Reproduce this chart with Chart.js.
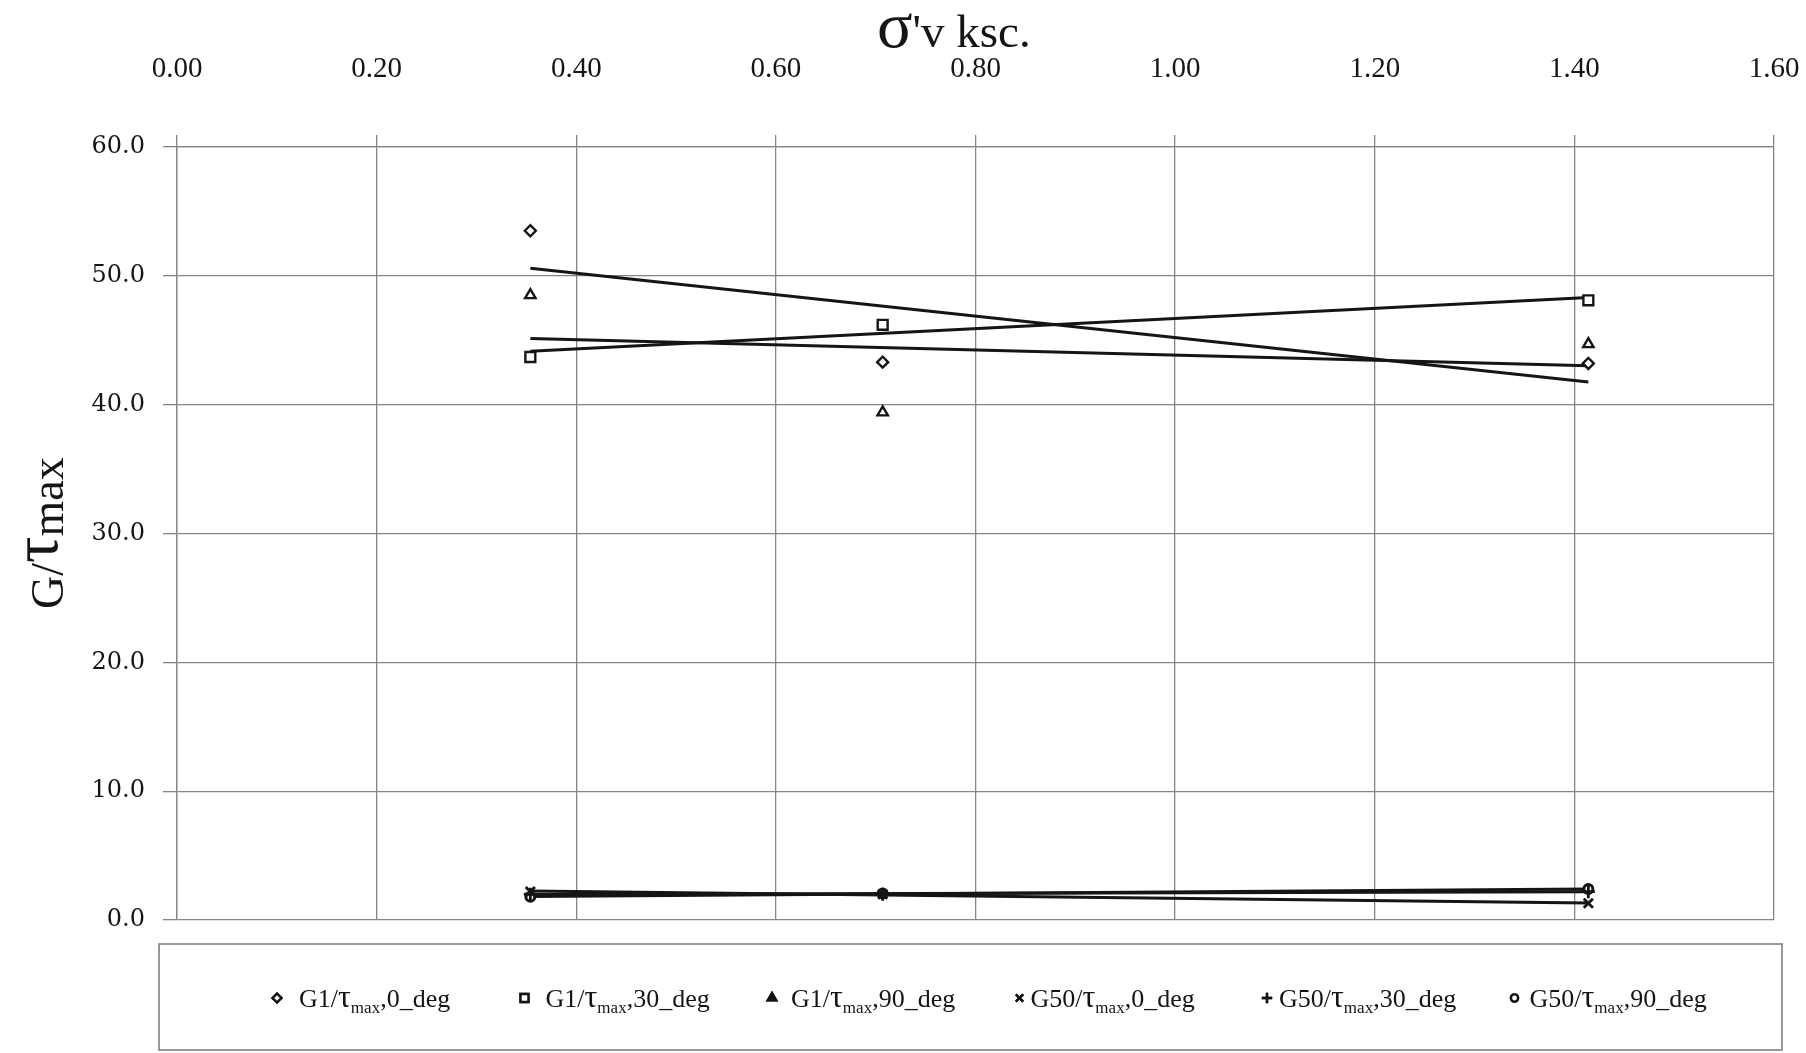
<!DOCTYPE html>
<html><head><meta charset="utf-8">
<script src="https://cdn.jsdelivr.net/npm/chart.js@4.4.1/dist/chart.umd.min.js"></script>
<style>html,body{margin:0;padding:0;background:#fff;overflow:hidden;} canvas{display:block;}</style>
</head><body>
<canvas id="c" width="1806" height="1053" style="width:1806px;height:1053px"></canvas>
<script>
// ---- data ----
const xValues = [0.354, 0.707, 1.414];          // σ'v (ksc.)
const g1_0deg  = [53.5, 43.3, 43.2];
const g1_30deg = [43.7, 46.2, 48.1];
const g1_90deg = [48.5, 39.4, 44.7];
const g50_0deg  = [2.2, 2.0, 1.3];
const g50_30deg = [2.0, 2.0, 2.2];
const g50_90deg = [1.8, 2.05, 2.4];
const xTicks = [0.00, 0.20, 0.40, 0.60, 0.80, 1.00, 1.20, 1.40, 1.60];
const yTicks = [0, 10, 20, 30, 40, 50, 60];
const seriesPrefix = ['G1/', 'G1/', 'G1/', 'G50/', 'G50/', 'G50/'];
const seriesSuffix = [',0_deg', ',30_deg', ',90_deg', ',0_deg', ',30_deg', ',90_deg'];
const seriesValues = [g1_0deg, g1_30deg, g1_90deg, g50_0deg, g50_30deg, g50_90deg];

// ---- styles ----
const markerStyle = [
  {pointStyle:'rectRot', radius:5.5, bw:2.4},
  {pointStyle:'rect', radius:7, bw:2.4},
  {pointStyle:'triangle', radius:6, bw:2.4},
  {pointStyle:'crossRot', radius:6.5, bw:2.8},
  {pointStyle:'cross', radius:6.5, bw:2.8},
  {pointStyle:'circle', radius:4.5, bw:3}
];
const INK = '#151515';
const GRID = '#858585';

function linFit(xs, ys) {
  const n = xs.length;
  const mx = xs.reduce((a,b)=>a+b,0)/n, my = ys.reduce((a,b)=>a+b,0)/n;
  let sxy=0, sxx=0;
  for (let i=0;i<n;i++){ sxy += (xs[i]-mx)*(ys[i]-my); sxx += (xs[i]-mx)**2; }
  const b = sxy/sxx, a = my - b*mx;
  return [{x: xs[0], y: a + b*xs[0]}, {x: xs[n-1], y: a + b*xs[n-1]}];
}

const datasets = [];
seriesValues.forEach((vals, i) => {
  datasets.push({
    type:'line', label:'trend'+i, data: linFit(xValues, vals),
    borderColor: INK, borderWidth: 3, pointRadius: 0, fill:false, order: 2
  });
});
seriesValues.forEach((vals, i) => {
  const m = markerStyle[i];
  datasets.push({
    type:'scatter', label: seriesPrefix[i]+'τmax'+seriesSuffix[i],
    data: xValues.map((x,k)=>({x, y: vals[k]})),
    pointStyle: m.pointStyle, pointRadius: m.radius, pointBorderWidth: m.bw,
    pointBorderColor: INK, pointBackgroundColor: '#fff', showLine:false, order: 1
  });
});

const titlesPlugin = {
  id:'titles',
  afterDraw(chart) {
    const ctx = chart.ctx;
    ctx.save();
    ctx.fillStyle = INK;
    ctx.textBaseline = 'alphabetic';
    // top axis title  σ'v ksc.
    let x = 877, y = 47;
    ctx.font = '66px "Liberation Serif"';
    ctx.fillText('σ', x, y); x += ctx.measureText('σ').width;
    ctx.font = '47px "Liberation Serif"';
    ctx.fillText("'v ksc.", x, y);
    // left axis title G/τmax (rotated)
    ctx.translate(63, 609);
    ctx.rotate(-Math.PI/2);
    x = 0;
    ctx.font = '46px "Liberation Serif"';
    ctx.fillText('G/', x, 0); x += ctx.measureText('G/').width;
    ctx.font = '66px "Liberation Serif"';
    ctx.fillText('τ', x, -6); x += ctx.measureText('τ').width;
    ctx.font = '46px "Liberation Serif"';
    ctx.fillText('max', x, 0);
    ctx.restore();

    // legend box
    const L = 159, T = 944, R = 1782, B = 1050;
    ctx.save();
    ctx.strokeStyle = '#777'; ctx.lineWidth = 1.5;
    ctx.strokeRect(L, T, R-L, B-T);
    const cy = 998, base = 1007;
    const gaps = [22, 21, 19, 11, 12, 15];
    for (let i=0;i<6;i++) {
      const mx = L + 118 + i*247.5;
      const m = markerStyle[i];
      ctx.strokeStyle = INK; ctx.fillStyle = i===2 ? INK : '#fff';
      ctx.lineWidth = 2.4;
      Chart.helpers.drawPoint(ctx, {pointStyle:m.pointStyle, radius: m.radius*0.8, rotation:0, borderWidth:2.4}, mx, cy);
      ctx.fill(); ctx.stroke();
      // text with subscript
      ctx.fillStyle = INK;
      let tx = mx + gaps[i];
      ctx.font = '26px "Liberation Serif"';
      ctx.fillText(seriesPrefix[i], tx, base); tx += ctx.measureText(seriesPrefix[i]).width;
      ctx.font = '32px "Liberation Serif"';
      ctx.fillText('τ', tx, base); tx += ctx.measureText('τ').width;
      ctx.font = '17px "Liberation Serif"';
      ctx.fillText('max', tx, base+6); tx += ctx.measureText('max').width;
      ctx.font = '26px "Liberation Serif"';
      ctx.fillText(seriesSuffix[i], tx, base);
    }
    ctx.restore();
  }
};

new Chart(document.getElementById('c'), {
  data: { datasets },
  options: {
    responsive:false, animation:false, devicePixelRatio:1,
    layout:{ padding:{ left:0, top:0, right:32, bottom:133 } },
    plugins:{ legend:{display:false}, tooltip:{enabled:false}, title:{display:false} },
    scales:{
      x:{
        type:'linear', position:'top', min:0, max:1.6,
        afterBuildTicks: s => { s.ticks = xTicks.map(v=>({value:v})); },
        afterFit: s => { s.height = 147; s.paddingLeft = 0; s.paddingRight = 0; },
        ticks:{ autoSkip:false, maxRotation:0, callback: v => Number(v).toFixed(2),
                font:{family:'Liberation Serif', size:29}, color:INK, padding:48 },
        grid:{ color:GRID, lineWidth:1.3, tickLength:12 },
        border:{ display:true, color:GRID, width:1.3 }
      },
      y:{
        type:'linear', position:'left', min:0, max:60,
        afterBuildTicks: s => { s.ticks = yTicks.map(v=>({value:v})); },
        afterFit: s => { s.width = 177; s.paddingTop = 0; s.paddingBottom = 0; },
        ticks:{ autoSkip:false, callback: v => Number(v).toFixed(1),
                font:{family:'DejaVu Serif', size:24}, color:INK, padding:18 },
        grid:{ color:GRID, lineWidth:1.3, tickLength:14 },
        border:{ display:true, color:GRID, width:1.3 }
      }
    }
  },
  plugins:[titlesPlugin]
});
</script>
</body></html>
